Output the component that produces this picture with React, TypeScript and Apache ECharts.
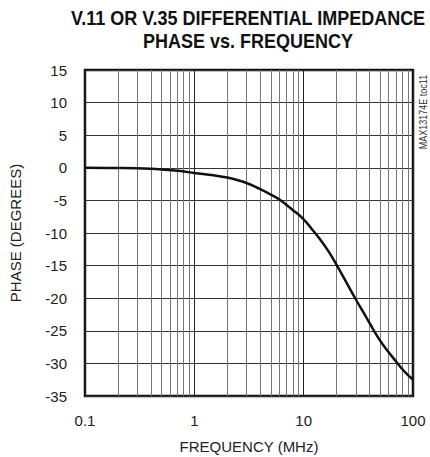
import React, { useEffect, useRef } from "react";
import * as echarts from "echarts";

const titleLines = ["V.11 OR V.35 DIFFERENTIAL IMPEDANCE", "PHASE vs. FREQUENCY"];
const xName = "FREQUENCY (MHz)";
const yName = "PHASE (DEGREES)";
const sideNote = "MAX13174E toc11";

const freq = [0.1, 0.2, 0.3, 0.5, 0.75, 1, 1.5, 2, 3, 4, 5, 6, 8, 10, 12, 14, 17, 20, 25, 30, 35, 40, 50, 60, 70, 80, 90, 100];
const phase = [0, -0.03, -0.08, -0.25, -0.5, -0.8, -1.15, -1.5, -2.33, -3.28, -4.1, -4.87, -6.5, -7.9, -9.5, -10.9, -12.9, -14.9, -17.8, -20.2, -22.1, -23.8, -26.5, -28.3, -29.7, -30.9, -31.8, -32.5];

const minorTicks = [0.2, 0.3, 0.4, 0.5, 0.6, 0.7, 0.8, 0.9, 2, 3, 4, 5, 6, 7, 8, 9, 20, 30, 40, 50, 60, 70, 80, 90];

const yMin = -35;
const yMax = 15;
const yStep = 5;

const FONT = "'Liberation Sans Narrow', 'Liberation Sans', Arial, sans-serif";

export default function App() {
  const ref = useRef<HTMLDivElement>(null);
  useEffect(() => {
    if (!ref.current) return;
    const chart = echarts.init(ref.current, undefined, { renderer: "svg" });
    const curve = freq.map((f, i) => [f, phase[i]]);
    const titleStyle = {
      fontFamily: FONT,
      fontWeight: "bold",
      fontSize: 20,
      fill: "#111",
      align: "center",
      verticalAlign: "middle",
    };
    chart.setOption({
      animation: false,
      backgroundColor: "#ffffff",
      grid: {
        left: 85,
        right: 17,
        top: 70,
        bottom: 61,
        show: true,
        borderColor: "#111",
        borderWidth: 2.5,
        backgroundColor: "transparent",
        containLabel: false,
        outerBoundsMode: "none",
      },
      xAxis: {
        type: "log",
        logBase: 10,
        min: 0.1,
        max: 100,
        name: xName,
        nameLocation: "middle",
        nameGap: 43,
        nameTextStyle: { fontFamily: FONT, fontSize: 15, color: "#222" },
        axisLine: { show: false },
        axisTick: { show: false },
        axisLabel: {
          fontFamily: FONT,
          fontSize: 15,
          color: "#222",
          margin: 17,
          formatter: (v: number) => String(v),
        },
        splitLine: { show: true, lineStyle: { color: "#222", width: 1 } },
      },
      yAxis: {
        type: "value",
        min: yMin,
        max: yMax,
        interval: yStep,
        name: yName,
        nameLocation: "middle",
        nameGap: 62,
        nameTextStyle: { fontFamily: FONT, fontSize: 15, color: "#222" },
        axisLine: { show: false },
        axisTick: { show: false },
        axisLabel: { fontFamily: FONT, fontSize: 15, color: "#222", margin: 18 },
        splitLine: { show: true, lineStyle: { color: "#333", width: 1 } },
      },
      series: [
        {
          type: "line",
          data: [[0.1, 0]],
          showSymbol: false,
          lineStyle: { opacity: 0 },
          silent: true,
          z: 1,
          markLine: {
            silent: true,
            symbol: ["none", "none"],
            label: { show: false },
            lineStyle: { color: "#777", width: 1, type: "solid" },
            emphasis: { disabled: true },
            data: minorTicks.map((v) => ({ xAxis: v })),
          },
        },
        {
          type: "line",
          data: curve,
          smooth: 0.4,
          showSymbol: false,
          lineStyle: { color: "#111", width: 2.5 },
          z: 5,
        },
      ],
      graphic: [
        {
          type: "text",
          x: 248,
          y: 18,
          scaleX: 0.9,
          style: { ...titleStyle, text: titleLines[0] },
        },
        {
          type: "text",
          x: 248,
          y: 41,
          scaleX: 0.9,
          style: { ...titleStyle, text: titleLines[1] },
        },
        {
          type: "text",
          x: 423,
          y: 112,
          rotation: Math.PI / 2,
          scaleX: 0.9,
          style: {
            text: sideNote,
            fontFamily: FONT,
            fontSize: 10,
            fill: "#333",
            align: "center",
            verticalAlign: "middle",
          },
        },
      ],
    });
    return () => chart.dispose();
  }, []);
  return (
    <div
      ref={ref}
      style={{ position: "fixed", left: 0, top: 0, width: 430, height: 457 }}
    />
  );
}
